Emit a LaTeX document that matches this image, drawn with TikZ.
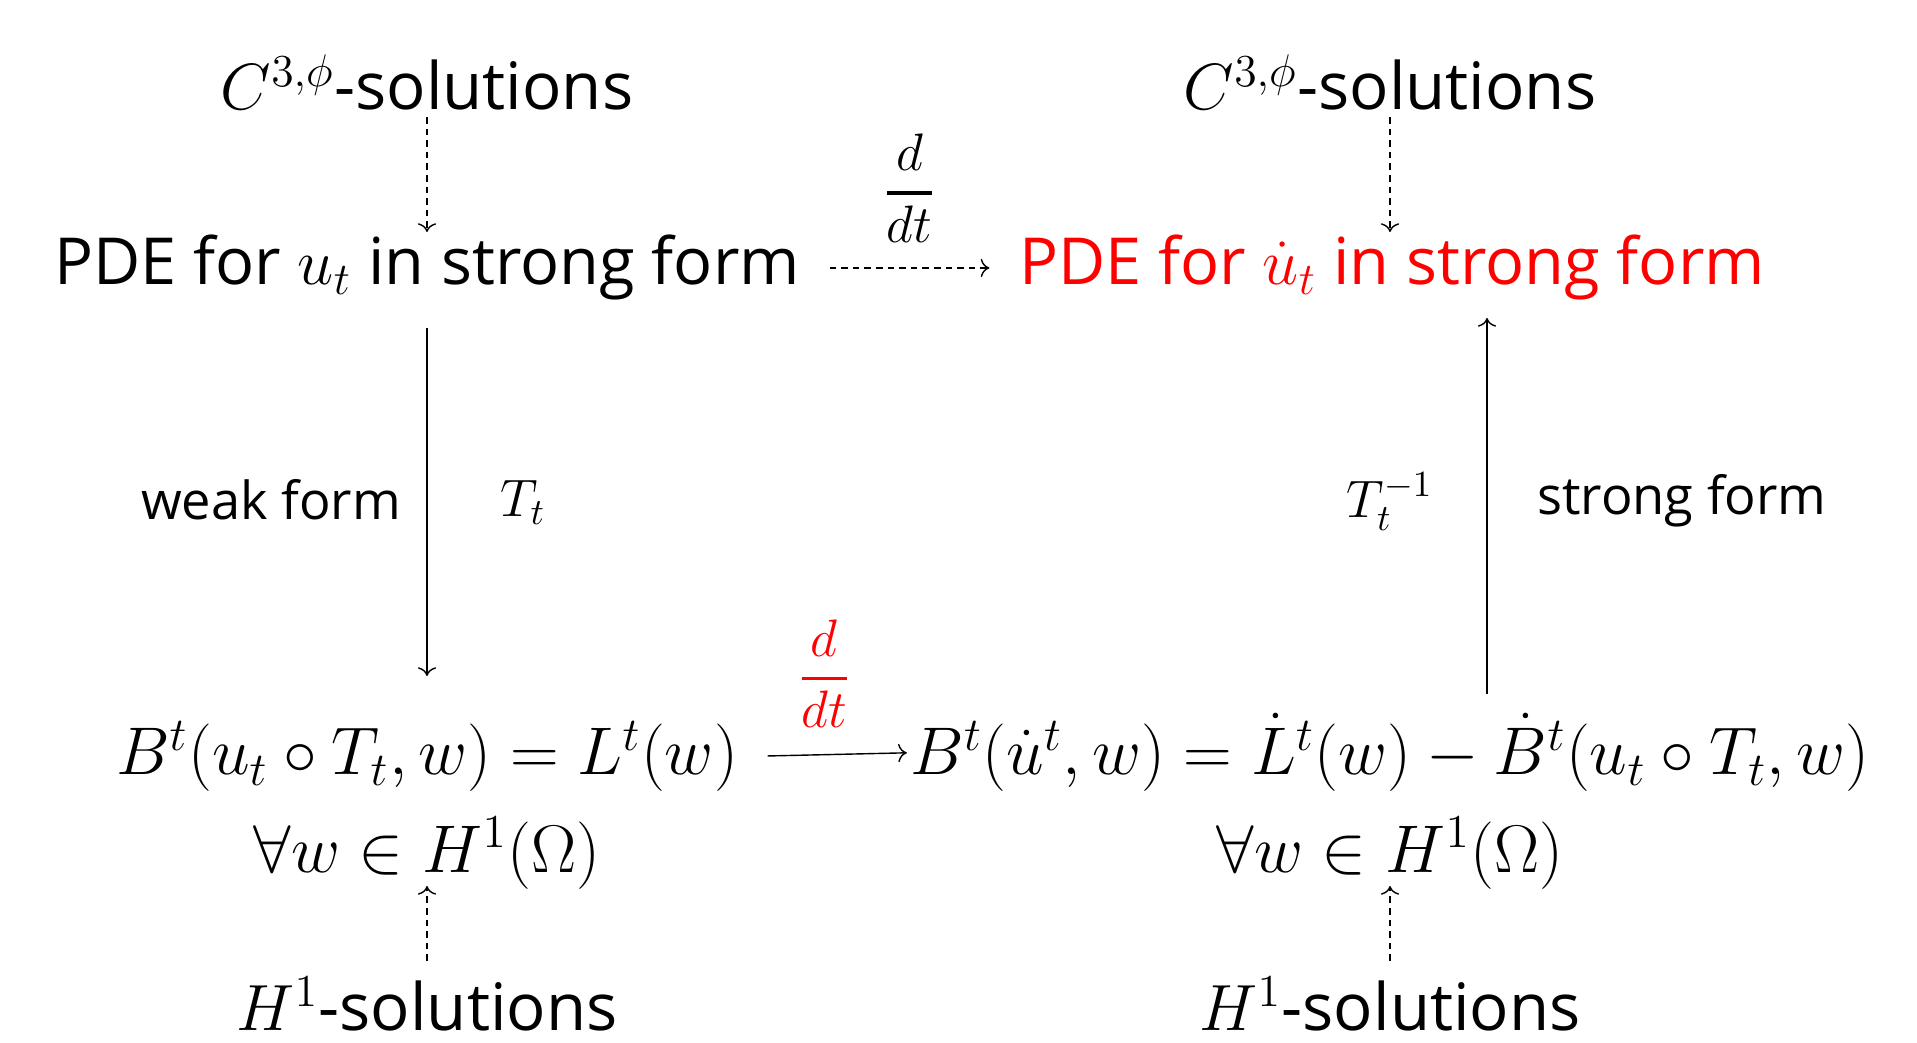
\RequirePackage{fix-cm}
\documentclass[tikz,border=0pt]{standalone}
\usepackage{amsmath}
\usepackage{fontspec}
\newfontfamily\diagsans{Open Sans}
\usetikzlibrary{arrows.meta, positioning, calc}
\newcommand{\ddtfrac}{\genfrac{}{}{0.9pt}{0}{d}{dt}}

\begin{document}
\begin{tikzpicture}[
    txt/.style={inner sep=0pt, anchor=base, font=\fontsize{18.6}{22}\selectfont\diagsans},
    pde/.style={txt, font=\fontsize{18.45}{22}\selectfont\diagsans},
    lbl/.style={inner sep=0pt, anchor=base, font=\fontsize{14.9}{18}\selectfont\diagsans},
    eqn/.style={inner sep=0pt, anchor=base, font=\fontsize{19.2}{23}\selectfont},
    maplbl/.style={inner sep=0pt, anchor=base, font=\fontsize{15}{18}\selectfont},
    frac/.style={inner sep=0pt, font=\fontsize{15}{18}\selectfont},
    dasharr/.style={->, dash pattern=on 1.9pt off 1.4pt},
    solidarr/.style={->}
  ]
    \useasboundingbox (0,0) rectangle (19.17,10.42);

    \node[txt] (c3L) at (4.27,9.32) {$C^{3,\phi}$-solutions};
    \node[txt] (c3R) at (13.90,9.32) {$C^{3,\phi}$-solutions};
    \node[pde] (pdeL) at (4.27,7.57) {PDE for $u_t$ in strong form};
    \node[pde, text=red] (pdeR) at (13.92,7.57) {PDE for $\dot{u}_t$ in strong form};

    \node[lbl] (weak) at (2.71,5.22) {weak form};
    \node[maplbl] (Tt) at (5.23,5.25) {$T_t$};
    \node[maplbl] (Tinv) at (13.90,5.24) {$T_t^{-1}$};
    \node[lbl] (strong) at (16.82,5.27) {strong form};

    \node[eqn] (eqL) at (4.27,2.67) {$B^t(u_t\circ T_t,w)=L^t(w)$};
    \node[eqn] (eqR) at (13.90,2.67) {$B^t(\dot{u}^t,w)=\dot{L}^t(w)-\dot{B}^t(u_t\circ T_t,w)$};
    \node[eqn] (allL) at (4.27,1.70) {$\forall w\in H^1(\Omega)$};
    \node[eqn] (allR) at (13.90,1.70) {$\forall w\in H^1(\Omega)$};
    \node[txt] (h1L) at (4.27,0.12) {$H^1$-solutions};
    \node[txt] (h1R) at (13.90,0.12) {$H^1$-solutions};

    \draw[dasharr, shorten <=0.07cm, shorten >=0.53cm] (c3L.base) -- (pdeL.base);
    \draw[dasharr, shorten <=0.07cm, shorten >=0.53cm] (c3R.base) -- (c3R.base |- pdeR.base);
    \draw[dasharr, shorten <=0.29cm, shorten >=0.29cm] (pdeL.east) -- (pdeR.west)
      node[frac, midway, above=0.25cm] (ddt) {$\ddtfrac$};

    \draw[solidarr, shorten <=0.43cm, shorten >=0.99cm] (pdeL.base) -- (eqL.base);
    \draw[solidarr, shorten <=0.81cm, shorten >=0.33cm] ([xshift=0.97cm]eqR.base) -- ([xshift=0.97cm]eqR.base |- pdeR.base);

    \draw[solidarr, shorten <=0.29cm, shorten >=0.03cm] (eqL.east) -- (eqR.west)
      node[frac, text=red, midway, above=0.26cm] (ddtred) {$\ddtfrac$};

    \draw[dasharr, shorten <=0.69cm, shorten >=0.14cm] (h1L.base) -- (allL.base);
    \draw[dasharr, shorten <=0.69cm, shorten >=0.14cm] (h1R.base) -- (allR.base);
  \end{tikzpicture}
\end{document}
